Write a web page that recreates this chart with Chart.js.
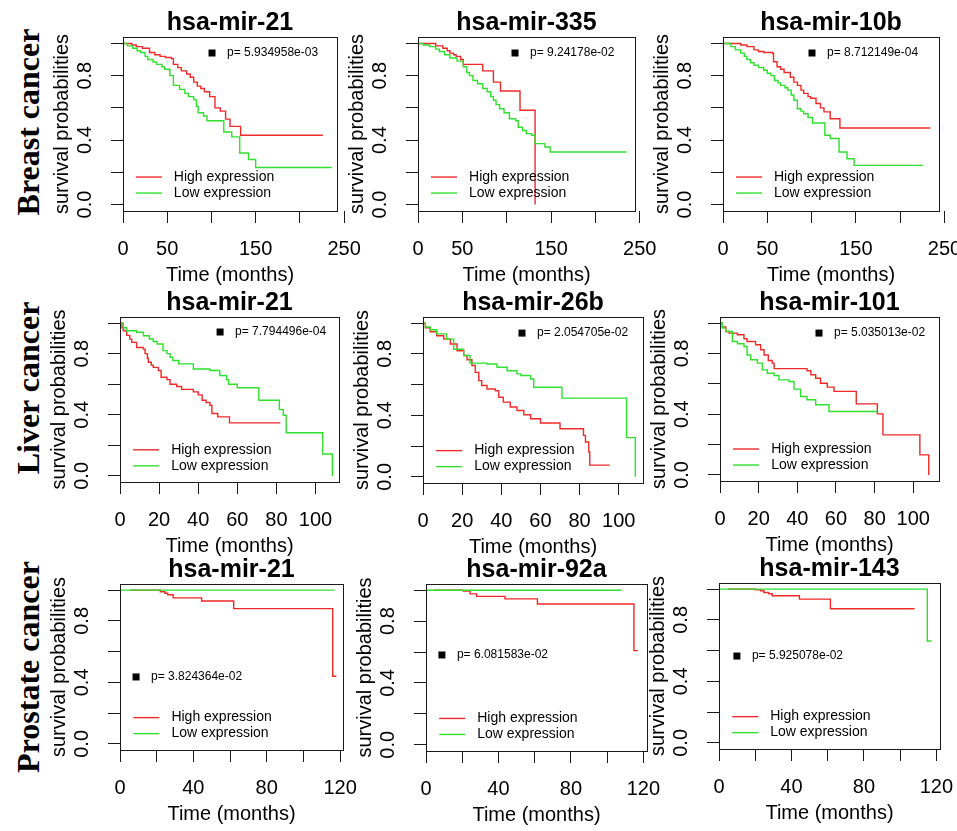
<!DOCTYPE html>
<html>
<head>
<meta charset="utf-8">
<script src="https://cdn.jsdelivr.net/npm/chart.js@4.4.1/dist/chart.umd.min.js"></script>
<style>
  body { margin: 0; background: #fff; width: 957px; height: 831px; overflow: hidden; position: relative; }
  canvas { position: absolute; }
  .row-name {
    position: absolute; left: 28px; white-space: nowrap;
    font: bold 32px "Liberation Serif", "Times New Roman", serif;
    transform: translate(-50%, -50%) rotate(-90deg);
  }
</style>
</head>
<body>
<div class="row-name" style="top:122px">Breast cancer</div>
<div class="row-name" style="top:388px">Liver cancer</div>
<div class="row-name" style="top:667px">Prostate cancer</div>
<canvas id="km0"></canvas><canvas id="km1"></canvas><canvas id="km2"></canvas>
<canvas id="km3"></canvas><canvas id="km4"></canvas><canvas id="km5"></canvas>
<canvas id="km6"></canvas><canvas id="km7"></canvas><canvas id="km8"></canvas>
<script>
// 데이터: [시간(개월), 생존확률] - 그림에서 읽은 값
const brca21High = [[0,1],[10,0.99],[15,0.98],[22,0.97],[30,0.944],[36,0.93],[42,0.92],[48,0.913],[55,0.906],[57,0.87],[62,0.85],[66,0.83],[72,0.81],[76,0.79],[80,0.76],[84,0.735],[88,0.72],[92,0.7],[98,0.67],[104,0.6],[110,0.58],[116,0.53],[121,0.485],[133,0.43],[226,0.43]];
const brca21Low = [[0,1],[5,0.985],[11,0.97],[16,0.955],[20,0.944],[25,0.92],[28,0.9],[34,0.885],[38,0.87],[44,0.855],[47,0.84],[53,0.8],[57,0.74],[64,0.715],[70,0.69],[74,0.67],[80,0.65],[83,0.61],[85,0.57],[91,0.55],[95,0.52],[114,0.45],[123,0.42],[132,0.32],[142,0.28],[150,0.23],[236,0.23]];
const brca335High = [[0,1],[20,0.985],[28,0.97],[33,0.955],[36,0.94],[40,0.93],[43,0.92],[48,0.9],[51,0.87],[73,0.83],[85,0.76],[93,0.705],[115,0.585],[132,0]];
const brca335Low = [[0,1],[6,0.99],[13,0.98],[20,0.965],[24,0.95],[30,0.93],[36,0.91],[44,0.89],[51,0.855],[55,0.82],[58,0.8],[62,0.77],[67,0.75],[73,0.72],[78,0.7],[82,0.67],[85,0.647],[88,0.62],[92,0.595],[97,0.57],[103,0.533],[110,0.52],[113,0.48],[118,0.46],[122,0.44],[128,0.43],[132,0.378],[143,0.357],[149,0.326],[235,0.326]];
const brca10bHigh = [[0,1],[20,0.99],[27,0.98],[35,0.96],[40,0.95],[46,0.944],[56,0.938],[57,0.886],[61,0.855],[65,0.84],[69,0.82],[76,0.79],[80,0.76],[84,0.74],[88,0.71],[91,0.69],[96,0.67],[99,0.66],[105,0.627],[110,0.6],[114,0.575],[121,0.533],[132,0.475],[234,0.475]];
const brca10bLow = [[0,1],[9,0.98],[14,0.96],[20,0.94],[24,0.92],[27,0.9],[31,0.88],[35,0.865],[40,0.85],[46,0.834],[50,0.815],[54,0.8],[58,0.77],[62,0.755],[65,0.74],[70,0.725],[73,0.71],[77,0.68],[80,0.647],[84,0.595],[88,0.58],[91,0.564],[96,0.54],[101,0.506],[115,0.43],[121,0.41],[131,0.326],[140,0.284],[148,0.243],[226,0.243]];
const liver21High = [[0,1],[1,0.97],[1.7,0.95],[3.4,0.92],[5,0.895],[6,0.874],[8.5,0.84],[12,0.83],[12.8,0.8],[14,0.77],[14.5,0.744],[16,0.725],[17,0.71],[19.6,0.69],[21,0.646],[24,0.63],[25.6,0.6],[29,0.585],[31.5,0.566],[37.5,0.55],[40,0.53],[42,0.495],[44,0.48],[46,0.462],[47,0.408],[50,0.386],[56,0.347],[82,0.347]];
const liver21Low = [[0,1],[1.7,0.97],[3.4,0.95],[8.5,0.94],[12,0.917],[15,0.896],[17,0.88],[19,0.863],[22,0.82],[24,0.8],[25.6,0.777],[27,0.755],[30,0.733],[37.5,0.7],[46,0.69],[51,0.657],[54.5,0.63],[55.5,0.6],[60,0.577],[71,0.495],[81.5,0.434],[83.5,0.397],[85,0.282],[103.7,0.143],[108.6,0]];
const liver26bHigh = [[0,1],[1.2,0.97],[3.7,0.944],[7,0.918],[10.6,0.896],[14,0.864],[17.4,0.82],[20.8,0.79],[22.5,0.762],[25,0.724],[26.7,0.68],[28.5,0.626],[30,0.594],[32.7,0.572],[37,0.56],[38.7,0.518],[41,0.486],[44.6,0.454],[48,0.432],[51.5,0.404],[55,0.378],[60,0.35],[70,0.313],[82,0.27],[83,0.227],[84.7,0.162],[85.2,0.076],[95.4,0.076]];
const liver26bLow = [[0,1],[1.2,0.975],[3.7,0.957],[7,0.93],[12,0.896],[15.7,0.83],[20.8,0.79],[24,0.74],[32.7,0.734],[37.8,0.713],[43,0.69],[48,0.67],[50,0.659],[55,0.637],[56.6,0.583],[71,0.512],[104,0.255],[108.5,0]];
const liver101High = [[0,1],[1.2,0.974],[3,0.945],[4.7,0.934],[9,0.923],[12.4,0.897],[14,0.879],[18.4,0.857],[21,0.824],[22.8,0.79],[25,0.754],[27,0.736],[28,0.7],[45,0.686],[47,0.66],[49.5,0.637],[52,0.604],[55.5,0.578],[59,0.55],[70.5,0.468],[81.4,0.402],[84.3,0.264],[103.4,0.132],[108,0]];
const liver101Low = [[0,1],[1.2,0.967],[3,0.945],[6.4,0.879],[9,0.864],[12.4,0.846],[14,0.79],[15.9,0.758],[19.3,0.736],[21.9,0.692],[24.5,0.67],[28,0.655],[30.5,0.626],[35.7,0.615],[38.3,0.565],[41.7,0.516],[45,0.495],[49.5,0.462],[56.4,0.418],[81.4,0.418]];
const prad21High = [[5.5,1],[20,1],[22,0.99],[24.5,0.98],[26,0.97],[29,0.95],[44.5,0.929],[62,0.88],[116,0.44],[118,0.44]];
const prad21Low = [[0,1],[117,1]];
const prad92aHigh = [[4.4,1],[20.6,0.995],[24.3,0.976],[28,0.96],[43.6,0.944],[61.5,0.911],[114.8,0.609],[117,0.609]];
const prad92aLow = [[0,1],[108,1]];
const prad143High = [[5,1],[20,0.995],[23,0.99],[24.8,0.978],[27.5,0.97],[29.4,0.957],[44.4,0.935],[61.5,0.872],[108,0.872]];
const prad143Low = [[0,1],[115,0.663],[117.4,0.663]];

const highSeries = [brca21High, brca335High, brca10bHigh, liver21High, liver26bHigh, liver101High, prad21High, prad92aHigh, prad143High];
const lowSeries = [brca21Low, brca335Low, brca10bLow, liver21Low, liver26bLow, liver101Low, prad21Low, prad92aLow, prad143Low];
const panelTitles = ["hsa-mir-21", "hsa-mir-335", "hsa-mir-10b", "hsa-mir-21", "hsa-mir-26b", "hsa-mir-101", "hsa-mir-21", "hsa-mir-92a", "hsa-mir-143"];
const pValues = ["5.934958e-03", "9.24178e-02", "8.712149e-04", "7.794496e-04", "2.054705e-02", "5.035013e-02", "3.824364e-02", "6.081583e-02", "5.925078e-02"];
const seriesLabels = ["High expression", "Low expression"];

// 눈금
const yTickValues = [0, 0.2, 0.4, 0.6, 0.8, 1.0];
const yTickLabels = ["0.0", "", "0.4", "", "0.8", ""];
const breastTicks = [0, 50, 100, 150, 200, 250];
const breastTickLabels = ["0", "50", "", "150", "", "250"];
const liverTicks = [0, 20, 40, 60, 80, 100];
const liverTickLabels = ["0", "20", "40", "60", "80", "100"];
const prostateTicks = [0, 20, 40, 60, 80, 100, 120];
const prostateTickLabels = ["0", "", "40", "", "80", "", "120"];

// 레이아웃 (픽셀)
const panelBoxes = [
  [123, 37, 337, 211], [418, 37, 635, 211], [723, 37, 939, 211],
  [120, 317, 339, 482], [423, 317, 643, 483], [720, 317, 939, 481],
  [120, 584, 343, 750], [426, 584, 647, 751], [719, 583, 940, 749]
];
const xMaxes = [242, 244.6, 243.8, 112, 112.4, 113.3, 121.6, 122, 122];
const pPositions = [
  [0.416, 0.092], [0.447, 0.092], [0.412, 0.092],
  [0.457, 0.091], [0.45, 0.097], [0.452, 0.098],
  [0.072, 0.56], [0.072, 0.425], [0.081, 0.44]
];
const PAD_TOP = 37, Y_AXIS_W = 73, X_AXIS_H = 76, PAD_RIGHT = 26;
const RED = "#ee2a2a", GREEN = "#2fe02f", INK = "#1a1a1a";
const FONT = '"Liberation Sans", Arial, sans-serif';

Chart.defaults.font.family = FONT;
Chart.defaults.color = "#000";

// 박스, 제목, p값, 범례 그리기
const kmDecor = {
  id: "kmDecor",
  afterDatasetsDraw(chart, args, opts) {
    const ctx = chart.ctx;
    const a = chart.chartArea;
    const w = a.right - a.left, h = a.bottom - a.top;
    ctx.save();
    ctx.strokeStyle = INK;
    ctx.lineWidth = 1;
    ctx.strokeRect(Math.round(a.left) + 0.5, Math.round(a.top) + 0.5, Math.round(w), Math.round(h));

    ctx.fillStyle = "#000";
    ctx.textBaseline = "middle";
    ctx.textAlign = "center";
    ctx.font = "bold 25px " + FONT;
    ctx.fillText(opts.title, (a.left + a.right) / 2, a.top - 14);

    const px = a.left + opts.pPos[0] * w, py = a.top + opts.pPos[1] * h;
    ctx.fillRect(px - 3.5, py - 3.5, 7, 7);
    ctx.textAlign = "left";
    ctx.font = "12px " + FONT;
    ctx.fillText("p= " + opts.pval, px + 15, py);

    const lx = a.left + 0.06 * w, ly = a.top + 0.805 * h;
    ctx.font = "14px " + FONT;
    [1, 0].forEach(function (idx, i) {
      const ds = chart.data.datasets[idx];
      const y = ly + i * 16;
      ctx.strokeStyle = ds.borderColor;
      ctx.lineWidth = 1.4;
      ctx.beginPath();
      ctx.moveTo(lx, y);
      ctx.lineTo(lx + 26, y);
      ctx.stroke();
      ctx.fillStyle = "#000";
      ctx.fillText(ds.label, lx + 38, y);
    });
    ctx.restore();
  }
};

function toPoints(pairs) {
  return pairs.map(function (p) { return { x: p[0], y: p[1] }; });
}

for (let i = 0; i < 9; i++) {
  const row = Math.floor(i / 3);
  const xTicks = [breastTicks, liverTicks, prostateTicks][row];
  const xLabels = [breastTickLabels, liverTickLabels, prostateTickLabels][row];
  const box = panelBoxes[i];
  const canvas = document.getElementById("km" + i);
  canvas.width = box[2] - box[0] + Y_AXIS_W + PAD_RIGHT;
  canvas.height = PAD_TOP + box[3] - box[1] + X_AXIS_H;
  canvas.style.left = (box[0] - Y_AXIS_W) + "px";
  canvas.style.top = (box[1] - PAD_TOP) + "px";

  new Chart(canvas.getContext("2d"), {
    type: "line",
    data: {
      datasets: [
        { label: seriesLabels[1], data: toPoints(lowSeries[i]), borderColor: GREEN },
        { label: seriesLabels[0], data: toPoints(highSeries[i]), borderColor: RED }
      ]
    },
    options: {
      responsive: false,
      animation: false,
      events: [],
      layout: { padding: { top: PAD_TOP, right: PAD_RIGHT, left: 0, bottom: 0 } },
      datasets: {
        line: { stepped: "before", borderWidth: 1.4, pointRadius: 0, tension: 0, fill: false }
      },
      scales: {
        x: {
          type: "linear",
          min: 0,
          max: xMaxes[i],
          bounds: "data",
          afterBuildTicks: function (s) { s.ticks = xTicks.map(function (v) { return { value: v }; }); },
          afterFit: function (s) { s.height = X_AXIS_H; s.paddingLeft = 0; s.paddingRight = 0; },
          grid: { drawOnChartArea: false, drawTicks: true, tickLength: 12, color: INK },
          border: { display: false },
          ticks: {
            autoSkip: false, maxRotation: 0, padding: 14, color: "#000",
            font: { size: 20 },
            callback: function (v, idx) { return xLabels[idx]; }
          },
          title: { display: true, text: "Time (months)", font: { size: 20 }, padding: 0, color: "#000" }
        },
        y: {
          type: "linear",
          min: -0.04,
          max: 1.04,
          bounds: "data",
          afterBuildTicks: function (s) { s.ticks = yTickValues.map(function (v) { return { value: v }; }); },
          afterFit: function (s) { s.width = Y_AXIS_W; s.paddingTop = 0; s.paddingBottom = 0; },
          grid: { drawOnChartArea: false, drawTicks: true, tickLength: 12, color: INK },
          border: { display: false },
          ticks: {
            autoSkip: false, minRotation: 90, maxRotation: 90, crossAlign: "center",
            padding: 12, color: "#000", font: { size: 20 },
            callback: function (v, idx) { return yTickLabels[idx]; }
          },
          title: { display: true, text: "survival probabilities", font: { size: 20 }, padding: 0, color: "#000" }
        }
      },
      plugins: {
        legend: { display: false },
        tooltip: { enabled: false },
        kmDecor: { title: panelTitles[i], pval: pValues[i], pPos: pPositions[i] }
      }
    },
    plugins: [kmDecor]
  });
}
</script>
</body>
</html>
